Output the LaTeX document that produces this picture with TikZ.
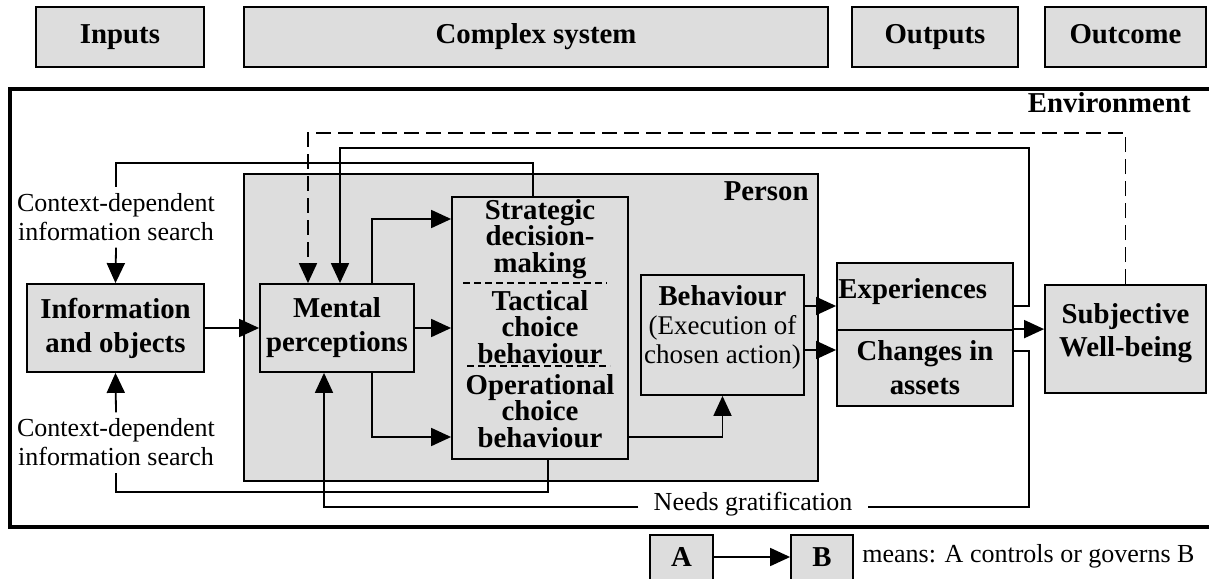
\documentclass[tikz,border=0pt]{standalone}
\usepackage{fontspec}
\setmainfont{Liberation Serif}
\usetikzlibrary{arrows.meta}
\definecolor{boxgray}{RGB}{221,221,221}
\begin{document}
\begin{tikzpicture}[x=0.5pt,y=-0.5pt,
  box/.style={draw=black,line width=0.9pt,fill=boxgray,inner sep=0pt},
  btxt/.style={font=\fontsize{14.4}{17}\selectfont\bfseries,align=center,inner sep=0pt},
  htxt/.style={btxt,text height=9.8pt,text depth=3pt},
  stxt/.style={font=\fontsize{14.4}{13.3}\selectfont\bfseries,align=center,inner sep=0pt},
  rtxt/.style={font=\fontsize{13}{14.5}\selectfont,align=center,inner sep=0pt},
  conn/.style={line width=0.9pt},
  tip/.style={-{Triangle[length=10pt,width=9pt]}},
  arr/.style={conn,tip},
  fb/.style={conn,dash pattern=on 7.5pt off 3.5pt},
  sepline/.style={line width=0.8pt,dash pattern=on 3.5pt off 2pt}]
\useasboundingbox (0,0) rectangle (1209,578);

% top header boxes
\node[box,htxt,minimum width=84pt,minimum height=30pt] (inputs) at (120,37) {Inputs};
\node[box,htxt,minimum width=292pt,minimum height=30pt] (complex) at (536,37) {Complex system};
\node[box,htxt,minimum width=83pt,minimum height=30pt] (outputs) at (935,37) {Outputs};
\node[box,htxt,minimum width=80.5pt,minimum height=30pt] (outcome) at (1125.5,37) {Outcome};

% environment frame
\draw[line width=1.8pt] (1215,89) -- (10,89) -- (10,527) -- (1215,527);
\node[btxt,anchor=east] (envlab) at (1191,103) {Environment};

% person
\node[box,minimum width=287pt,minimum height=153.5pt] (person) at (531,327.5) {};
\node[btxt,anchor=east] (perslab) at (809,191) {Person};

% main boxes
\node[box,btxt,minimum width=88.5pt,minimum height=44pt] (info) at (115.5,328) {Information\\and objects};
\node[box,btxt,minimum width=77pt,minimum height=44pt] (mental) at (337,328) {Mental\\perceptions};
\node[box,minimum width=88pt,minimum height=131pt] (strat) at (540,328) {};
\node[stxt] (s1) at (540,239) {Strategic\\decision-\\making};
\node[stxt] (s2) at (540,327) {Tactical\\choice\\behaviour};
\node[stxt] (s3) at (540,411) {Operational\\choice\\behaviour};
\draw[sepline] (463,283) -- (607,283);
\draw[sepline] (467,366) -- (610,366);

\node[box,minimum width=81.5pt,minimum height=60pt] (behav) at (722.5,335) {};
\node[rtxt,font=\fontsize{13.5}{14.5}\selectfont] (behavtxt) at (722.5,327) {\fontsize{14.4}{14.5}\selectfont\bfseries Behaviour\\(Execution of\\chosen action)};

\node[box,minimum width=88pt,minimum height=33.5pt] (exp) at (925,296.5) {};
\node[btxt,anchor=west] (exptxt) at (838,292) {Experiences};
\node[box,btxt,minimum width=88pt,minimum height=38pt] (chg) at (925,368) {Changes in\\assets};

\node[box,minimum width=80.5pt,minimum height=54pt] (swb) at (1125.5,339) {};
\node[btxt,font=\fontsize{14.4}{16.5}\selectfont\bfseries] (swbtxt) at (1125.5,333) {Subjective\\Well-being};

% side texts
\node[rtxt,inner ysep=3pt] (ctx1) at (116,217.5) {Context-dependent\\information search};
\node[rtxt,inner ysep=3pt] (ctx2) at (116,442.5) {Context-dependent\\information search};
\node[rtxt,inner xsep=7.5pt,inner ysep=1pt] (ng) at (753,504) {Needs gratification};

% helper coordinates
\coordinate (r133) at (0,133);
\coordinate (r148) at (0,148);
\coordinate (r163) at (0,163);
\coordinate (r219) at (0,219);
\coordinate (r306) at (0,306);
\coordinate (r350) at (0,350);
\coordinate (r351) at (0,351);
\coordinate (r437) at (0,437);
\coordinate (r492) at (0,492);
\coordinate (r507) at (0,507);
\coordinate (c308) at (308,0);
\coordinate (c324) at (324,0);
\coordinate (c340) at (340,0);
\coordinate (c372) at (372,0);
\coordinate (c533) at (533,0);
\coordinate (c548) at (548,0);
\coordinate (c1029) at (1029,0);

% connectors
\draw[arr] (info.east) -- (mental.west);
\draw[arr] (mental.east) -- (strat.west);
\draw[arr] (mental.north -| c372) |- (strat.west |- r219);
\draw[arr] (mental.south -| c372) |- (strat.west |- r437);
\draw[arr] (strat.east |- r437) -| (behav.south);
\draw[arr] (behav.east |- r306) -- (exp.west |- r306);
\draw[arr] (behav.east |- r350) -- (chg.west |- r350);
\draw[arr] (chg.north east) -- (swb.west |- chg.north);

% feedback from experiences
\draw[arr] (exp.east |- r306) -| (r148 -| c1029) -| (mental.north -| c340);
% needs gratification
\draw[conn] (chg.east |- r351) -| (r507 -| c1029) -- (ng.east |- r507);
\draw[arr] (ng.west |- r507) -| (mental.south -| c324);
% dashed feedback from well-being
\draw[fb,tip] (swb.north) |- (c308 |- r133) -- (mental.north -| c308);
% context-dependent information search (top)
\draw[conn] (strat.north -| c533) |- (ctx1.north |- r163) -- (ctx1.north);
\draw[arr] (ctx1.south) -- (info.north);
% context-dependent information search (bottom)
\draw[conn] (strat.south -| c548) |- (ctx2.south |- r492) -- (ctx2.south);
\draw[arr] (ctx2.north) -- (info.south);

% legend
\node[box,minimum width=31.5pt,minimum height=26pt] (la) at (681.5,561) {};
\node[btxt] (latxt) at (681.5,557) {A};
\node[box,minimum width=31pt,minimum height=26pt] (lb) at (822,561) {};
\node[btxt] (lbtxt) at (822,557) {B};
\draw[arr] (la.east |- latxt) -- (lb.west |- latxt);
\node[rtxt,anchor=west] (legtxt) at (862,556) {means: A controls or governs B};
\end{tikzpicture}
\end{document}
